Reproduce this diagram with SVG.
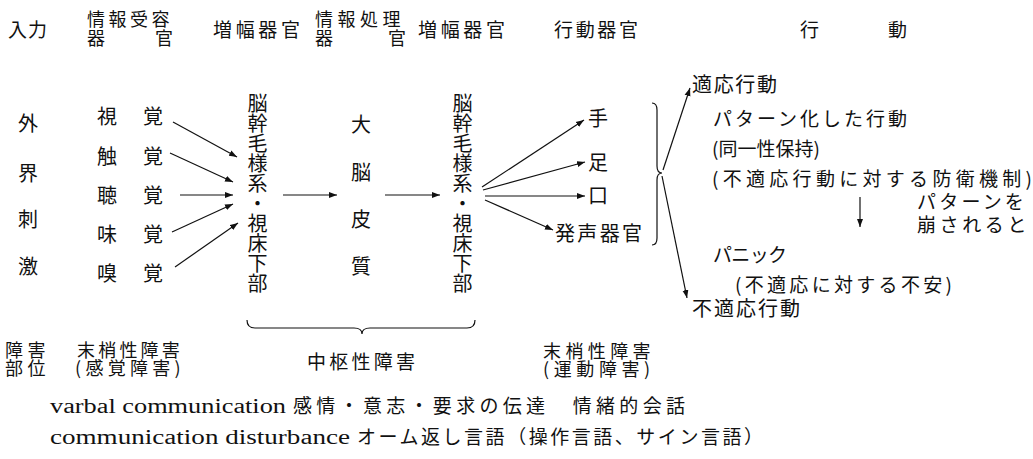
<svg xmlns="http://www.w3.org/2000/svg" width="1033" height="459" viewBox="0 0 1033 459">
<style>
text{font-family:"Noto Sans CJK JP","Noto Sans",sans-serif;font-size:19px;fill:#111}
.s20{font-size:20px}
.s18{font-size:18px}
.vt{font-size:20px;writing-mode:vertical-rl;glyph-orientation-vertical:0}
.en{font-family:"Liberation Serif","Noto Sans CJK JP",serif;font-size:20px}
.ln{stroke:#111;stroke-width:1.2;fill:none}
.ar{stroke:#111;stroke-width:1.2;fill:none;marker-end:url(#ah)}
</style>
<defs>
<marker id="ah" markerUnits="userSpaceOnUse" markerWidth="9" markerHeight="7" refX="8" refY="3.5" orient="auto">
<path d="M0,0.5 L8,3.5 L0,6.5 z" fill="#111"/>
</marker>
</defs>
<rect width="1033" height="459" fill="#fff"/>

<g id="header">
<text x="8" y="37" textLength="39" lengthAdjust="spacing">入力</text>
<text class="s18"><tspan x="87" y="26" letter-spacing="3.5">情報受容</tspan><tspan x="87" y="45">器</tspan><tspan x="155" y="45">官</tspan></text>
<text x="213" y="37" textLength="87" lengthAdjust="spacing">増幅器官</text>
<text class="s18"><tspan x="315" y="26" letter-spacing="4.5">情報処理</tspan><tspan x="315" y="45">器</tspan><tspan x="388" y="45">官</tspan></text>
<text x="418" y="37" textLength="87" lengthAdjust="spacing">増幅器官</text>
<text x="554" y="37" textLength="84" lengthAdjust="spacing">行動器官</text>
<text y="37"><tspan x="800">行</tspan><tspan x="888">動</tspan></text>
</g>

<g id="input">
<text class="s20" x="18" y="131">外</text>
<text class="s20" x="18" y="181">界</text>
<text class="s20" x="18" y="227">刺</text>
<text class="s20" x="18" y="274">激</text>
</g>

<g id="receptors">
<text class="s20" y="124"><tspan x="97">視</tspan><tspan x="143">覚</tspan></text>
<text class="s20" y="164"><tspan x="97">触</tspan><tspan x="143">覚</tspan></text>
<text class="s20" y="203"><tspan x="97">聴</tspan><tspan x="143">覚</tspan></text>
<text class="s20" y="242"><tspan x="97">味</tspan><tspan x="143">覚</tspan></text>
<text class="s20" y="281"><tspan x="97">嗅</tspan><tspan x="143">覚</tspan></text>
</g>

<g id="brainstem1">
<text class="vt" x="257.5" y="93">脳幹毛様系・視床下部</text>
</g>

<g id="cortex">
<text class="s20" x="351" y="132">大</text>
<text class="s20" x="351" y="180">脳</text>
<text class="s20" x="351" y="227">皮</text>
<text class="s20" x="351" y="274">質</text>
</g>

<g id="brainstem2">
<text class="vt" x="462.5" y="93">脳幹毛様系・視床下部</text>
</g>

<g id="effectors">
<text class="s20" x="588" y="126">手</text>
<text class="s20" x="588" y="170">足</text>
<text class="s20" x="588" y="203">口</text>
<text class="s20" x="555" y="241" textLength="87" lengthAdjust="spacing">発声器官</text>
</g>

<g id="behavior">
<text class="s20" x="692" y="92" textLength="85" lengthAdjust="spacing">適応行動</text>
<text x="713" y="126" textLength="194" lengthAdjust="spacing">パターン化した行動</text>
<text x="712" y="156">(同一性保持)</text>
<text x="712" y="186" textLength="320" lengthAdjust="spacing">(不適応行動に対する防衛機制)</text>
<text><tspan x="917" y="209" letter-spacing="3.2">パターンを</tspan><tspan x="917" y="232" letter-spacing="3.6">崩されると</tspan></text>
<text x="713" y="262" textLength="74" lengthAdjust="spacing">パニック</text>
<text x="735" y="292" textLength="217" lengthAdjust="spacing">(不適応に対する不安)</text>
<text class="s20" x="692" y="316" textLength="108" lengthAdjust="spacing">不適応行動</text>
</g>

<g id="disorders">
<text class="s18"><tspan x="5" y="357" letter-spacing="4.5">障害</tspan><tspan x="5" y="375" letter-spacing="4.5">部位</tspan></text>
<text class="s18"><tspan x="77" y="357" letter-spacing="3.2">末梢性障害</tspan><tspan x="75" y="375" letter-spacing="4.3">(感覚障害)</tspan></text>
<text x="307" y="369" textLength="108" lengthAdjust="spacing">中枢性障害</text>
<text class="s18"><tspan x="543" y="358" letter-spacing="4.4">末梢性障害</tspan><tspan x="543" y="376" letter-spacing="4.6">(運動障害)</tspan></text>
</g>

<g id="communication">
<text class="en" x="50" y="413" textLength="236" lengthAdjust="spacingAndGlyphs">varbal communication</text>
<text x="293" y="413" textLength="392" lengthAdjust="spacing">感情・意志・要求の伝達　情緒的会話</text>
<text class="en" x="50" y="444" textLength="300" lengthAdjust="spacingAndGlyphs">communication disturbance</text>
<text x="357" y="444" textLength="406" lengthAdjust="spacing">オーム返し言語（操作言語、サイン言語）</text>
</g>

<g id="connectors">
<line class="ar" x1="173" y1="122" x2="237" y2="157"/>
<line class="ar" x1="170" y1="153" x2="233" y2="182"/>
<line class="ar" x1="180" y1="195" x2="233" y2="195"/>
<line class="ar" x1="172" y1="232" x2="233" y2="204"/>
<line class="ar" x1="175" y1="267" x2="238" y2="223"/>
<line class="ar" x1="283" y1="195" x2="337" y2="195"/>
<line class="ar" x1="385" y1="195" x2="440" y2="195"/>
<line class="ar" x1="482" y1="187" x2="584" y2="120"/>
<line class="ar" x1="483" y1="190" x2="585" y2="162"/>
<line class="ar" x1="485" y1="196" x2="585" y2="196"/>
<line class="ar" x1="485" y1="200" x2="553" y2="230"/>
<path class="ln" d="M652,103 Q657,103 657,110 L657,166 Q657,173 662,173 Q657,173 657,180 L657,238 Q657,245 652,245"/>
<line class="ar" x1="663" y1="170" x2="690" y2="88"/>
<line class="ar" x1="662" y1="176" x2="687" y2="298"/>
<line class="ar" x1="860" y1="197" x2="860" y2="227"/>
<path class="ln" d="M247,320 Q247,328 255,328 L354,328 Q362,328 362,334 Q362,328 370,328 L467,328 Q475,328 475,320"/>
</g>
</svg>
